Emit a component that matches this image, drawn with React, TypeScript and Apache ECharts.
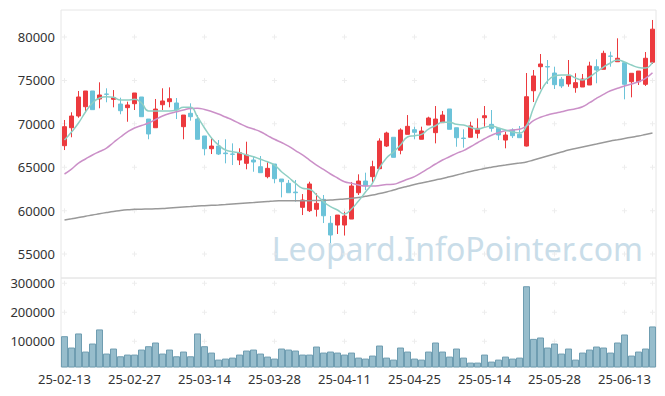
import React, { useEffect, useRef } from "react";
import * as echarts from "echarts";

const dates = [
  "25-02-13", "25-02-14", "25-02-17", "25-02-18", "25-02-19", "25-02-20", "25-02-21", "25-02-24", "25-02-25", "25-02-26",
  "25-02-27", "25-02-28", "25-03-04", "25-03-05", "25-03-06", "25-03-07", "25-03-10", "25-03-11", "25-03-12", "25-03-13",
  "25-03-14", "25-03-17", "25-03-18", "25-03-19", "25-03-20", "25-03-21", "25-03-24", "25-03-25", "25-03-26", "25-03-27",
  "25-03-28", "25-03-31", "25-04-01", "25-04-02", "25-04-03", "25-04-04", "25-04-07", "25-04-08", "25-04-09", "25-04-10",
  "25-04-11", "25-04-14", "25-04-15", "25-04-16", "25-04-17", "25-04-18", "25-04-21", "25-04-22", "25-04-23", "25-04-24",
  "25-04-25", "25-04-28", "25-04-29", "25-04-30", "25-05-02", "25-05-07", "25-05-08", "25-05-09", "25-05-12", "25-05-13",
  "25-05-14", "25-05-15", "25-05-16", "25-05-19", "25-05-20", "25-05-21", "25-05-22", "25-05-23", "25-05-26", "25-05-27",
  "25-05-28", "25-05-29", "25-05-30", "25-06-02", "25-06-04", "25-06-05", "25-06-09", "25-06-10", "25-06-11", "25-06-12",
  "25-06-13", "25-06-16", "25-06-17", "25-06-18", "25-06-19",
];

// [open, close, low, high]
const candles = [
  [67480, 69670, 66980, 70440], [69550, 70900, 68450, 71330], [70900, 73090, 70700, 73780], [71970, 73780, 71330, 73780],
  [73780, 71630, 71630, 73780], [72860, 73320, 71790, 74780], [73430, 73400, 72480, 74090], [72820, 73010, 71900, 73890],
  [72280, 71510, 71100, 73010], [71860, 72170, 70240, 72550], [72320, 73550, 71590, 73550], [73090, 70820, 70820, 73090],
  [70550, 68830, 68220, 70550], [69550, 71700, 69550, 72860], [72200, 72630, 71590, 74090], [72550, 72890, 71900, 74200],
  [72400, 71590, 70550, 72970], [69670, 71010, 68220, 71010], [71210, 70820, 70360, 72360], [70550, 68220, 68220, 71010],
  [68600, 67130, 66370, 68600], [67130, 67440, 66520, 68330], [67440, 66520, 66410, 68130], [66640, 66560, 65450, 68220],
  [66520, 66490, 65250, 67750], [65830, 66670, 65250, 67180], [65450, 66410, 64760, 67940], [65830, 65600, 64480, 66290],
  [65060, 64370, 64370, 66290], [63910, 64870, 63720, 65570], [65370, 63680, 63150, 65370], [63640, 63330, 61530, 63640],
  [63150, 62060, 62060, 63530], [62140, 62060, 61030, 63530], [60380, 61220, 59490, 61910], [59990, 63070, 59840, 63330],
  [60150, 60840, 59320, 61990], [61300, 59410, 58570, 61800], [58540, 57190, 56270, 59380], [58340, 59490, 57310, 59490],
  [58340, 59380, 57130, 59870], [59030, 62840, 59030, 63300], [62060, 63410, 61800, 64180], [63410, 62870, 62370, 64370],
  [63910, 65060, 63260, 65750], [64830, 68020, 64830, 68330], [67440, 68940, 67330, 69090], [68450, 66140, 66140, 68450],
  [66950, 69290, 66490, 69480], [68790, 69710, 68790, 71010], [69320, 69020, 68220, 69670], [68220, 69170, 68220, 69670],
  [69860, 70670, 69860, 70820], [68980, 70550, 67750, 72050], [70130, 71010, 70130, 71480], [71710, 69370, 69370, 71710],
  [69550, 68400, 67360, 69550], [68360, 68310, 67250, 69370], [68450, 69750, 68450, 70240], [68910, 69480, 68330, 70630],
  [70700, 70930, 69670, 72050], [69940, 69480, 69090, 71590], [69480, 68710, 68130, 69480], [68130, 68710, 67180, 69090],
  [69290, 68630, 68360, 69480], [68790, 68400, 68400, 69750], [67440, 73120, 67390, 75850], [73810, 75510, 72510, 76200],
  [76580, 76890, 73980, 78040], [76600, 76540, 74590, 77350], [75850, 74510, 74010, 76580], [75130, 74360, 74120, 75390],
  [74590, 75510, 74270, 77350], [74160, 74740, 73580, 75820], [74240, 75160, 74240, 75740], [74470, 76660, 74470, 77150],
  [76580, 76200, 74670, 77430], [76280, 78120, 76280, 78420], [77810, 77780, 76580, 78310], [77150, 77550, 77150, 79850],
  [77040, 74550, 72820, 77040], [74850, 75820, 73050, 75820], [74850, 76080, 74470, 76080], [74550, 77550, 74360, 78270],
  [77090, 80900, 76890, 81960],
];

const ma5 = [
  68130, 69060, 70090, 71360, 72400, 72970, 73120, 73050, 72740, 72740,
  72820, 72400, 71480, 71480, 71480, 71480, 71590, 71900, 71900, 70780,
  69520, 68360, 67560, 66980, 66790, 66670, 66410, 66210, 65910, 65630,
  65250, 64480, 63840, 63150, 62570, 62460, 61800, 61030, 60450, 60070,
  59610, 60190, 61110, 62140, 63180, 64910, 66060, 66750, 67560, 68480,
  68630, 68790, 69400, 69780, 70170, 70170, 69940, 69860, 69600, 69400,
  69600, 69750, 69520, 69290, 69060, 68940, 69750, 71820, 73660, 74930,
  75510, 75620, 75620, 75280, 75050, 75390, 75970, 76540, 77000, 77350,
  77120, 76770, 76490, 76430, 77120,
];

const ma20 = [
  64220, 64790, 65480, 65950, 66410, 66810, 67210, 67850, 68480, 69060,
  69520, 69800, 70090, 70500, 70900, 71190, 71390, 71590, 71760, 71790,
  71650, 71420, 71130, 70780, 70440, 70040, 69670, 69400, 69090, 68650,
  68220, 67850, 67440, 66920, 66410, 65830, 65250, 64740, 64220, 63760,
  63330, 63150, 62950, 62840, 62840, 62890, 63010, 63030, 63300, 63610,
  63910, 64370, 64870, 65370, 65830, 66210, 66600, 66920, 67360, 67820,
  68280, 68680, 68980, 69210, 69290, 69370, 69750, 70360, 70750, 71010,
  71210, 71390, 71590, 71740, 71970, 72430, 72940, 73400, 73810, 74090,
  74360, 74590, 74850, 75240, 75890,
];

const ma60 = [
  58920, 59060, 59210, 59360, 59490, 59640, 59780, 59910, 60010, 60090,
  60150, 60170, 60190, 60210, 60240, 60300, 60360, 60420, 60470, 60530,
  60570, 60610, 60650, 60700, 60760, 60820, 60880, 60930, 60990, 61050,
  61110, 61130, 61140, 61140, 61140, 61150, 61160, 61190, 61220, 61280,
  61340, 61420, 61510, 61650, 61800, 61970, 62140, 62370, 62600, 62800,
  63010, 63180, 63350, 63530, 63700, 63900, 64100, 64310, 64510, 64680,
  64850, 65000, 65140, 65250, 65370, 65480, 65600, 65830, 66060, 66290,
  66520, 66750, 66980, 67160, 67330, 67500, 67670, 67850, 68020, 68160,
  68310, 68460, 68600, 68770, 68940,
];

const volumes = [
  117300, 78200, 126700, 64300, 92000, 140600, 57400, 74700, 48000, 53900,
  53900, 71200, 82700, 95500, 57400, 71200, 48000, 64300, 48000, 126700,
  82700, 60800, 36500, 40000, 43400, 53900, 67800, 71200, 57400, 46900,
  40000, 74700, 71200, 67800, 53900, 53900, 81600, 60800, 64300, 60800,
  53900, 60800, 43400, 40000, 50400, 85100, 43400, 36500, 78200, 64300,
  40000, 36500, 64300, 95500, 64300, 46900, 74700, 43400, 26200, 26200,
  53900, 29600, 36500, 46900, 40000, 43400, 289600, 108000, 112800, 78200,
  92000, 57400, 74700, 36500, 60800, 71200, 81600, 78200, 60800, 95500,
  123200, 50400, 64300, 74700, 150900,
];

const priceTicks = [55000, 60000, 65000, 70000, 75000, 80000];
const volumeTicks = [100000, 200000, 300000];
const dateTickIndices = [0, 10, 20, 30, 40, 50, 60, 70, 80, 84];

const watermark = "Leopard.InfoPointer.com";

const FONT = "'Noto Sans', 'Liberation Sans', sans-serif";
const UP = "#ec3a3e";
const DOWN = "#6cc3d9";
const PLUS = "path://M4,0H6V4H10V6H6V10H4V6H0V4H4Z";

export default function App() {
  const ref = useRef<HTMLDivElement>(null);

  useEffect(() => {
    document.body.style.margin = "0";
    if (!ref.current) return;
    const chart = echarts.init(ref.current, undefined, { renderer: "svg" });

    const crossPrice: any[] = [];
    dateTickIndices.forEach((i) => priceTicks.forEach((v) => crossPrice.push([dates[i], v])));
    const crossVol: any[] = [];
    dateTickIndices.forEach((i) => volumeTicks.forEach((v) => crossVol.push([dates[i], v])));

    const labelStyle = { color: "#333", fontSize: 13, fontFamily: FONT };

    chart.setOption({
      animation: false,
      backgroundColor: "#ffffff",
      graphic: [
        {
          type: "text",
          right: 22,
          top: 232,
          z: 0,
          silent: true,
          style: {
            text: watermark,
            fill: "#c9dde9",
            font: `32px ${FONT}`,
          },
        },
      ],
      grid: [
        { left: 61, right: 9, top: 10, height: 268, show: true, borderColor: "#e6e6e6", borderWidth: 1 },
        { left: 61, right: 9, top: 278, height: 89, show: true, borderColor: "#e6e6e6", borderWidth: 1 },
      ],
      xAxis: [
        {
          type: "category",
          gridIndex: 0,
          data: dates,
          axisLine: { show: false },
          axisTick: { show: false },
          axisLabel: { show: false },
          splitLine: { show: false },
        },
        {
          type: "category",
          gridIndex: 1,
          data: dates,
          axisLine: { show: false },
          axisTick: { show: false },
          splitLine: { show: false },
          axisLabel: { ...labelStyle, interval: 9, margin: 5 },
        },
      ],
      yAxis: [
        {
          type: "value",
          gridIndex: 0,
          min: 52240,
          max: 83110,
          minInterval: 5000,
          maxInterval: 5000,
          axisLine: { show: false },
          axisTick: { show: false },
          splitLine: { show: false },
          axisLabel: {
            ...labelStyle,
            margin: 6,
            formatter: (v: number) => (v % 5000 === 0 ? String(v) : ""),
          },
        },
        {
          type: "value",
          gridIndex: 1,
          min: 11000,
          max: 318000,
          minInterval: 100000,
          maxInterval: 100000,
          axisLine: { show: false },
          axisTick: { show: false },
          splitLine: { show: false },
          axisLabel: {
            ...labelStyle,
            margin: 6,
            formatter: (v: number) => (v % 100000 === 0 ? String(v) : ""),
          },
        },
      ],
      series: [
        {
          type: "scatter",
          xAxisIndex: 0,
          yAxisIndex: 0,
          data: crossPrice,
          symbol: PLUS,
          symbolSize: 5,
          silent: true,
          z: 1,
          itemStyle: { color: "#e8e8e8" },
        },
        {
          type: "scatter",
          xAxisIndex: 1,
          yAxisIndex: 1,
          data: crossVol,
          symbol: PLUS,
          symbolSize: 5,
          silent: true,
          z: 1,
          itemStyle: { color: "#e8e8e8" },
        },
        {
          type: "candlestick",
          xAxisIndex: 0,
          yAxisIndex: 0,
          data: candles,
          barWidth: 5,
          z: 3,
          itemStyle: {
            color: UP,
            color0: DOWN,
            borderColor: UP,
            borderColor0: DOWN,
            borderWidth: 1,
          },
        },
        {
          type: "line",
          xAxisIndex: 0,
          yAxisIndex: 0,
          data: ma60,
          smooth: true,
          symbol: "none",
          z: 4,
          lineStyle: { color: "#999999", width: 1.5 },
        },
        {
          type: "line",
          xAxisIndex: 0,
          yAxisIndex: 0,
          data: ma20,
          smooth: true,
          symbol: "none",
          z: 4,
          lineStyle: { color: "#cb90c8", width: 1.5 },
        },
        {
          type: "line",
          xAxisIndex: 0,
          yAxisIndex: 0,
          data: ma5,
          smooth: true,
          symbol: "none",
          z: 4,
          lineStyle: { color: "#8fcfc4", width: 1.5 },
        },
        {
          type: "bar",
          xAxisIndex: 1,
          yAxisIndex: 1,
          data: volumes,
          barCategoryGap: "0%",
          z: 3,
          itemStyle: { color: "#97bdcc", borderColor: "#6f9db1", borderWidth: 1 },
        },
      ],
    });

    return () => chart.dispose();
  }, []);

  return <div ref={ref} style={{ width: 665, height: 396 }} />;
}
